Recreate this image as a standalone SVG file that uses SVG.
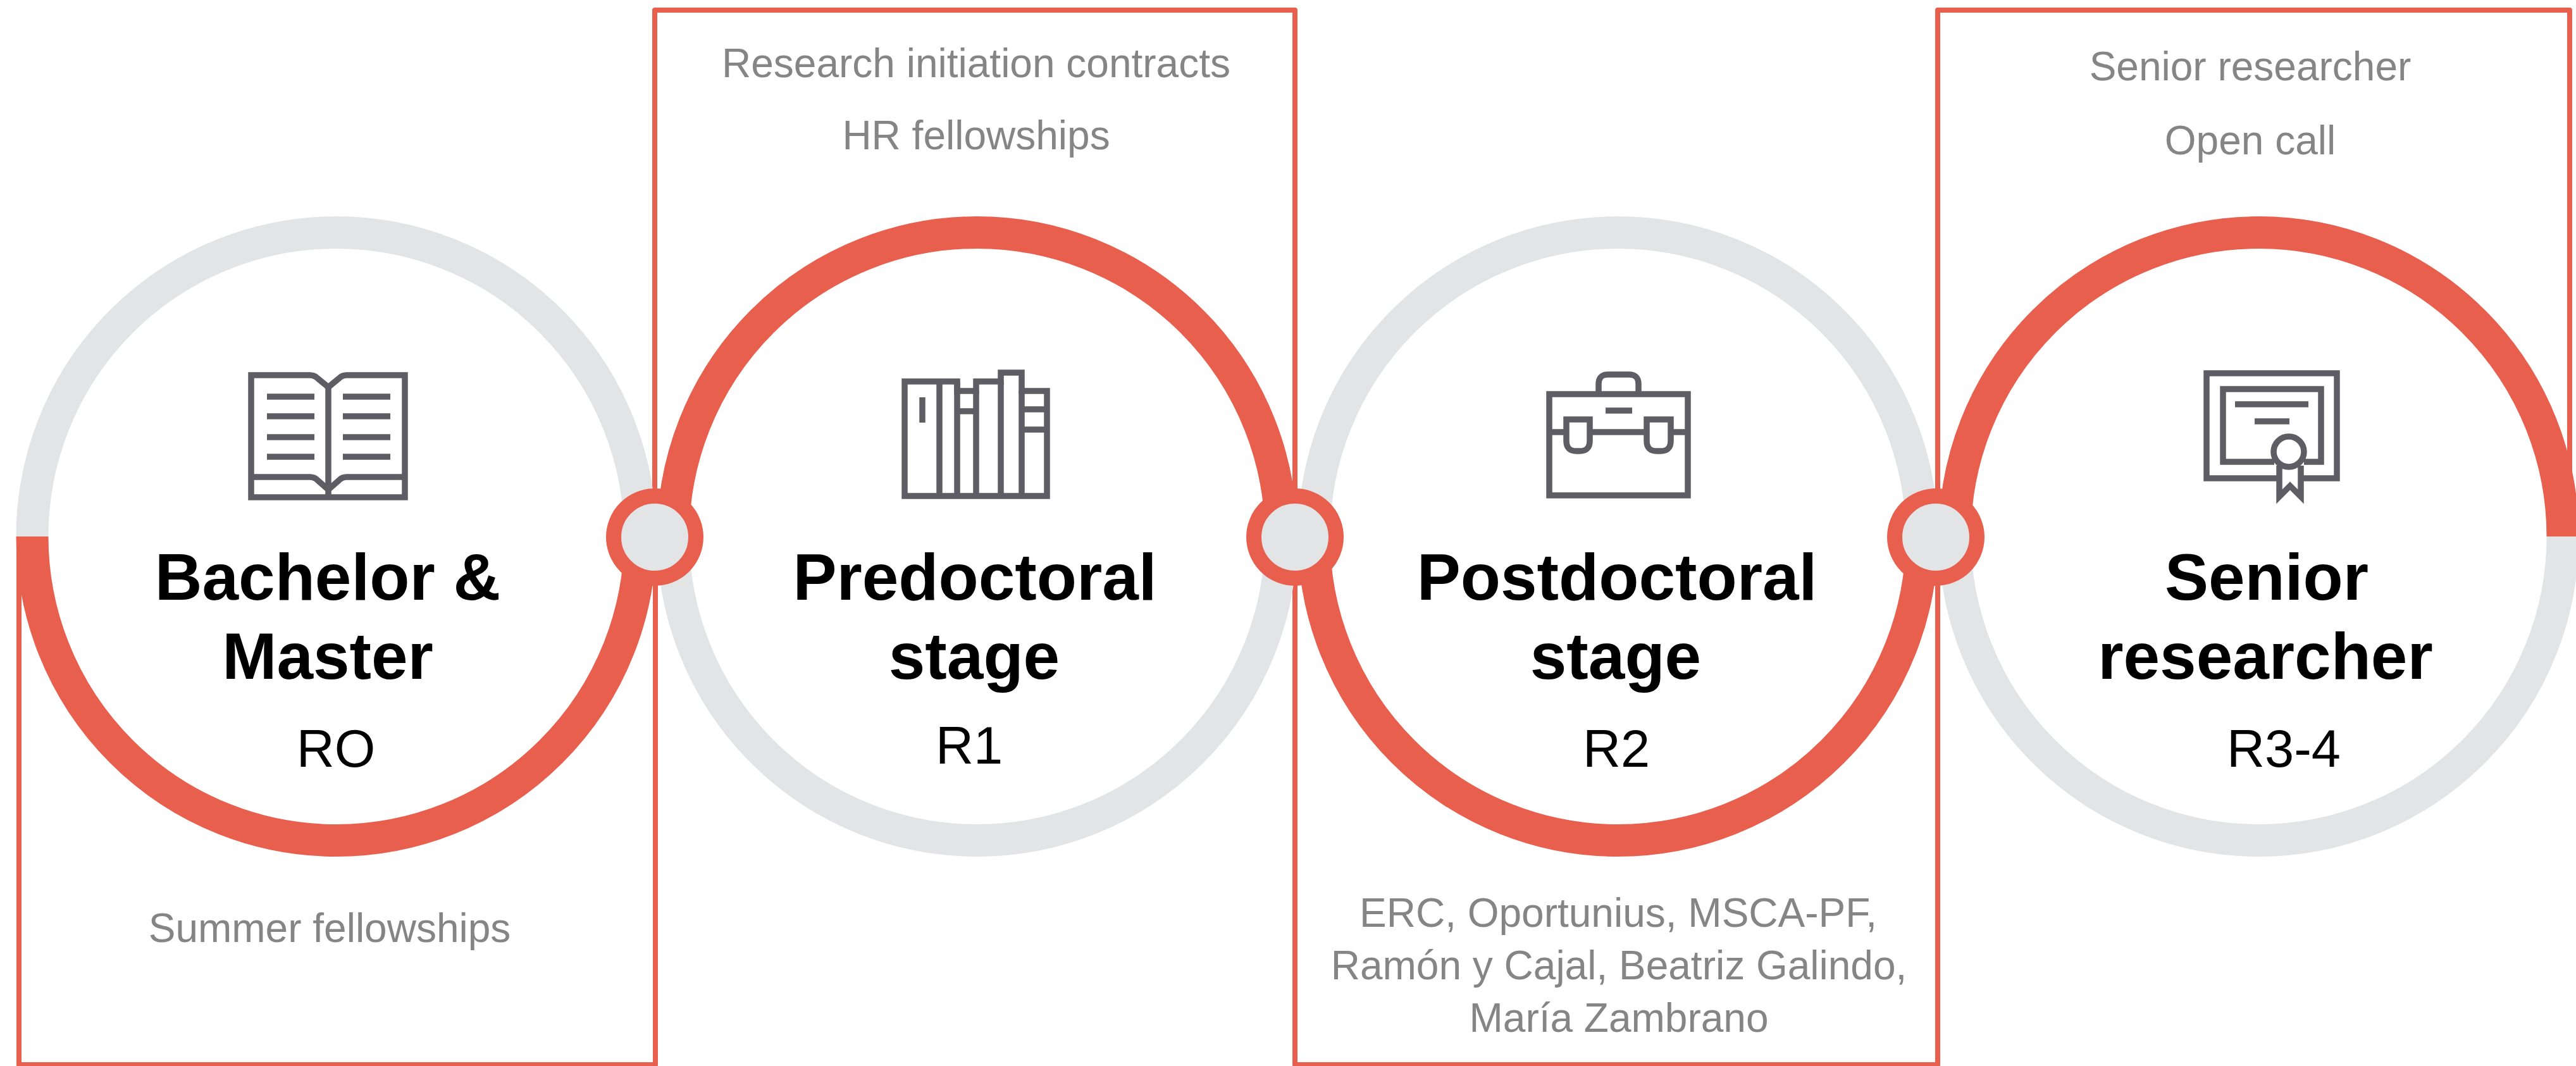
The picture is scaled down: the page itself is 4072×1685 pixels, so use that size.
<svg xmlns="http://www.w3.org/2000/svg" width="4072" height="1685" viewBox="0 0 4072 1685">
<style>
.g{fill:none;stroke:#e3e4e6;stroke-width:51}
.r{fill:none;stroke:#e95f4e;stroke-width:51}
.box{fill:none;stroke:#e95f4e;stroke-width:8;stroke-linejoin:round}
.j{fill:#e3e4e6;stroke:#e95f4e;stroke-width:24}
.ic{fill:none;stroke:#5e5d63;stroke-width:9.500}
text{font-family:"Liberation Sans",Arial,sans-serif;text-anchor:middle}
.t{font-size:103.500px;font-weight:700;fill:#000}
.c{font-size:83px;fill:#000}
.n{font-size:64px;fill:#858585}
</style>
<rect width="4072" height="1685" fill="#fff"/>
<g id="panels">
<path class="box" d="M30 849V1683H1036V849"/>
<path class="box" d="M1035 849V16H2047V849"/>
<path class="box" d="M2047 849V1683H3063V849"/>
<path class="box" d="M3063 849V16H4062V849"/>
</g>
<g id="node-bachelor">
<path class="g" d="M51 848A480.500 480.500 0 0 1 1012 848"/>
<path class="r" d="M51 848A480.500 480.500 0 0 0 1012 848"/>
<g class="ic">
<path d="M397 593H490Q497 593 502 598L519 612L536 598Q541 593 548 593H640V786H397Z"/>
<path d="M397 754H490Q497 754 502 759L519 774L536 759Q541 754 548 754H640"/>
<path d="M519 610V786"/>
<path d="M422 627H497M422 658H497M422 691H497M422 722H497M542 627H617M542 658H617M542 691H617M542 722H617"/>
</g>
<text class="t" x="518" y="948">Bachelor &amp;</text>
<text class="t" x="518" y="1073">Master</text>
<text class="c" x="531" y="1212">RO</text>
<text class="n" x="521" y="1489">Summer fellowships</text>
</g>
<g id="node-predoctoral">
<path class="r" d="M1064 848A480.500 480.500 0 0 1 2025 848"/>
<path class="g" d="M1064 848A480.500 480.500 0 0 0 2025 848"/>
<g class="ic">
<path d="M1430 603H1513V618H1543V603H1582V589H1615V618H1655V784H1430Z"/>
<path d="M1485 603V784M1513 603V784M1543 618V784M1582 603V784M1615 618V784"/>
<path d="M1513 650H1543M1615 647H1655M1615 679H1655"/>
<path d="M1458 628V668"/>
</g>
<text class="t" x="1541" y="948">Predoctoral</text>
<text class="t" x="1540" y="1073">stage</text>
<text class="c" x="1532" y="1207">R1</text>
<text class="n" x="1543" y="122">Research initiation contracts</text>
<text class="n" x="1543" y="236">HR fellowships</text>
</g>
<g id="node-postdoctoral">
<path class="g" d="M2077 848A480.500 480.500 0 0 1 3038 848"/>
<path class="r" d="M2077 848A480.500 480.500 0 0 0 3038 848"/>
<g class="ic">
<rect x="2449" y="623" width="219" height="160"/>
<path d="M2527 623V607Q2527 592 2542 592H2575Q2590 592 2590 607V623"/>
<path d="M2538 649H2580"/>
<path d="M2449 683H2476M2513 683H2603M2641 683H2668"/>
<path d="M2476 663H2513V697Q2513 713 2497 713H2492Q2476 713 2476 697Z"/>
<path d="M2603 663H2641V697Q2641 713 2625 713H2619Q2603 713 2603 697Z"/>
</g>
<text class="t" x="2556" y="948">Postdoctoral</text>
<text class="t" x="2554" y="1073">stage</text>
<text class="c" x="2555" y="1212">R2</text>
<text class="n" x="2558" y="1465">ERC, Oportunius, MSCA-PF,</text>
<text class="n" x="2559" y="1548">Ramón y Cajal, Beatriz Galindo,</text>
<text class="n" x="2559" y="1631">María Zambrano</text>
</g>
<g id="node-senior">
<path class="r" d="M3090 848A480.500 480.500 0 0 1 4051 848"/>
<path class="g" d="M3090 848A480.500 480.500 0 0 0 4051 848"/>
<g class="ic">
<path d="M3603 756H3488V590H3694V756H3637"/>
<path d="M3595 730H3514V615H3669V730H3642"/>
<path d="M3533 639H3649M3564 666H3619"/>
<circle cx="3618" cy="714" r="24"/>
<path d="M3603 736V785L3620 768L3637 785V736"/>
</g>
<text class="t" x="3583" y="948">Senior</text>
<text class="t" x="3581" y="1073">researcher</text>
<text class="c" x="3610" y="1212">R3-4</text>
<text class="n" x="3557" y="127">Senior researcher</text>
<text class="n" x="3557" y="244">Open call</text>
</g>
<g id="connectors">
<circle class="j" cx="1035" cy="849" r="65"/>
<circle class="j" cx="2047" cy="849" r="65"/>
<circle class="j" cx="3060" cy="849" r="65"/>
</g>
</svg>
